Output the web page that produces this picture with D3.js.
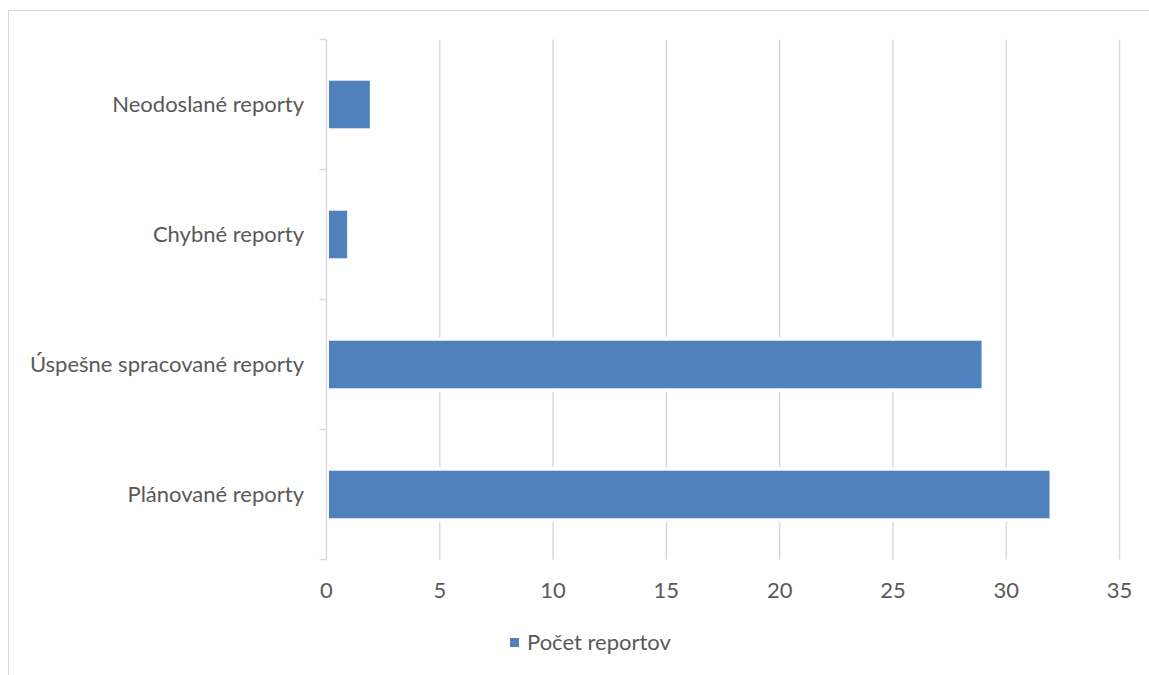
<!DOCTYPE html>
<html><head><meta charset="utf-8">
<script src="https://cdn.jsdelivr.net/npm/d3@7"></script>
<style>
html,body{margin:0;padding:0;background:#fff;}
svg text{font-family:"Lato","Open Sans",sans-serif;fill:#595959;}
</style></head>
<body><svg id="c" width="1149" height="675"></svg>
<script>
const categories = ["Neodoslané reporty","Chybné reporty","Úspešne spracované reporty","Plánované reporty"];
const values = [2,1,29,32];
const xTicks = [0,5,10,15,20,25,30,35];
const seriesName = "Počet reportov";

(function(){
const svg = d3.select("#c");
const W = 1149, H = 675;
const pLeft = 326.5, pRight = 1119.5, pTop = 39.5, pBottom = 559.5;
const color = "#4f81bd";
const gridColor = "#d9d9d9";
const fs = 22;

// chart border
svg.append("rect").attr("x",8.5).attr("y",10.5).attr("width",W+20).attr("height",H+20)
  .attr("fill","none").attr("stroke","#d9d9d9").attr("stroke-width",1);

const x = d3.scaleLinear().domain([0,35]).range([pLeft,pRight]);
const y = d3.scaleBand().domain(categories).range([pTop,pBottom]).paddingInner(0.634).paddingOuter(0.317);

// gridlines
svg.append("g").selectAll("line").data(xTicks.slice(1)).join("line")
  .attr("x1",d=>x(d)).attr("x2",d=>x(d))
  .attr("y1",pTop).attr("y2",pBottom)
  .attr("stroke",gridColor).attr("stroke-width",1.5);

// bars
svg.append("g").selectAll("rect").data(categories).join("rect")
  .attr("x",x(0)+2.5).attr("y",(d)=>y(d))
  .attr("width",(d,i)=>x(values[i])-x(0)-4.5).attr("height",y.bandwidth())
  .attr("fill",color).attr("stroke","#fff").attr("stroke-width",7).attr("paint-order","stroke");

// y axis line and ticks
const bandStep = (pBottom-pTop)/categories.length;
svg.append("line").attr("x1",pLeft).attr("x2",pLeft).attr("y1",pTop).attr("y2",pBottom)
  .attr("stroke",gridColor).attr("stroke-width",1.5);
svg.append("g").selectAll("line").data(d3.range(categories.length+1)).join("line")
  .attr("x1",pLeft-7).attr("x2",pLeft).attr("y1",d=>pTop+d*bandStep).attr("y2",d=>pTop+d*bandStep)
  .attr("stroke",gridColor).attr("stroke-width",1.5);

// category labels
svg.append("g").selectAll("text").data(categories).join("text")
  .attr("x",304).attr("y",d=>y(d)+y.bandwidth()/2).attr("dy","0.35em")
  .attr("text-anchor","end").attr("font-size",fs).text(d=>d);

// x tick labels
svg.append("g").selectAll("text").data(xTicks).join("text")
  .attr("x",d=>x(d)).attr("y",598).attr("text-anchor","middle").attr("font-size",fs).text(d=>d);

// legend
svg.append("rect").attr("x",510).attr("y",638).attr("width",9).attr("height",9).attr("fill",color);
svg.append("text").attr("x",527).attr("y",650).attr("font-size",fs).text(seriesName);
})();
</script></body></html>
